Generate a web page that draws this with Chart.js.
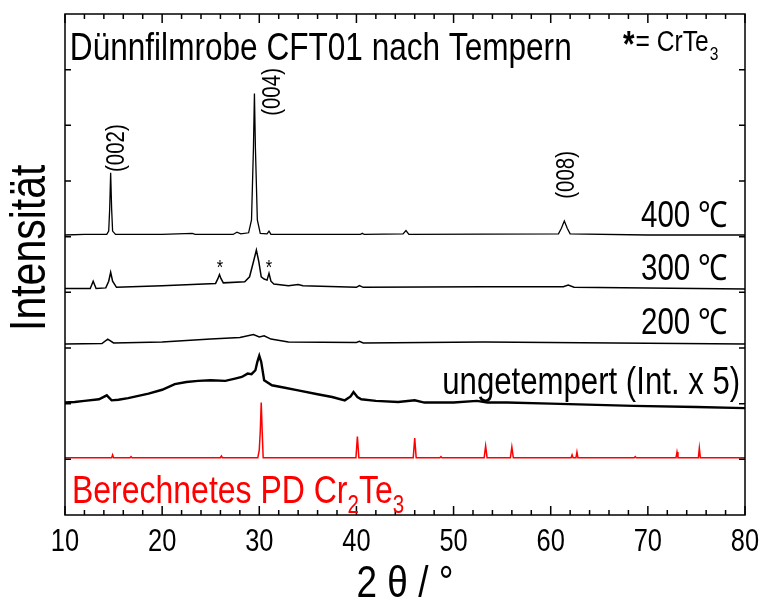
<!DOCTYPE html>
<html>
<head>
<meta charset="utf-8">
<script src="https://cdn.jsdelivr.net/npm/chart.js@4.4.1/dist/chart.umd.min.js"></script>
<style>
  html, body { margin: 0; padding: 0; background: #fff; }
</style>
</head>
<body>
<canvas id="xrd" width="766" height="598"></canvas>
<script>
// Diffraktogramme, gestapelt (Intensität in willkürlichen Einheiten, mit Versatz)
const t400 = [[10, 5.03], [12, 5.04], [14.3, 5.04], [14.5, 5.1], [14.6, 5.5], [14.7, 6.15], [14.8, 5.5], [14.9, 5.1], [15.2, 5.04],
  [20, 5.04], [23.1, 5.06], [23.4, 5.04], [27.3, 5.04], [27.7, 5.08], [28.1, 5.05], [28.9, 5.07], [29.2, 5.3], [29.4, 6.6],
  [29.5, 7.57], [29.6, 6.6], [29.8, 5.3], [30.1, 5.06], [30.8, 5.05], [31.0, 5.1], [31.2, 5.04], [40.4, 5.04], [40.6, 5.06],
  [40.8, 5.04], [44.8, 5.05], [45.1, 5.11], [45.4, 5.04], [60.8, 5.05], [61.1, 5.15], [61.4, 5.28], [61.7, 5.15], [62.0, 5.05],
  [70, 5.03], [80, 5.03]];

const t300 = [[10, 4.07], [12.6, 4.07], [12.9, 4.2], [13.2, 4.07], [14.2, 4.08], [14.5, 4.2], [14.7, 4.36], [14.9, 4.2], [15.3, 4.09],
  [20, 4.12], [25.5, 4.16], [25.75, 4.25], [25.9, 4.32], [26.05, 4.25], [26.3, 4.17], [28.5, 4.19], [29.0, 4.28], [29.4, 4.55],
  [29.7, 4.76], [29.95, 4.55], [30.2, 4.28], [30.5, 4.24], [30.8, 4.22], [31.0, 4.34], [31.2, 4.2], [31.5, 4.15], [33, 4.12],
  [34, 4.14], [34.5, 4.12], [40.0, 4.09], [40.3, 4.12], [40.7, 4.09], [53.1, 4.1], [61.3, 4.1], [61.8, 4.13], [62.4, 4.09], [80, 4.06]];

const t200 = [[10, 3.07], [13.8, 3.08], [14.4, 3.16], [15.0, 3.09], [20, 3.11], [25, 3.16], [28, 3.19], [29.4, 3.24], [30.0, 3.2],
  [30.5, 3.22], [31.2, 3.16], [33, 3.11], [40.0, 3.1], [40.3, 3.12], [40.7, 3.09], [53.1, 3.11], [80, 3.07]];

const tUngetempert = [[10, 2.02], [11, 2.03], [12, 2.05], [13.5, 2.08], [14.3, 2.15], [14.8, 2.06], [15.5, 2.07], [16.5, 2.1],
  [18.6, 2.18], [20, 2.25], [21.3, 2.35], [22.5, 2.39], [23.7, 2.41], [25, 2.42], [26.5, 2.41], [27.5, 2.45], [28.2, 2.48],
  [28.8, 2.54], [29.2, 2.53], [29.6, 2.6], [29.8, 2.75], [30.0, 2.86], [30.2, 2.75], [30.5, 2.42], [31.3, 2.33], [32.5, 2.29],
  [34, 2.24], [36, 2.17], [37.5, 2.12], [38.8, 2.06], [39.4, 2.13], [39.7, 2.21], [40.1, 2.12], [40.5, 2.08], [42, 2.05],
  [44.3, 2.03], [46.0, 2.06], [47, 2.02], [50, 2.02], [52.4, 2.05], [53.5, 2.02], [55.5, 2.02], [60, 2.0], [68.5, 1.96],
  [75, 1.94], [80, 1.92]];

const tCr2Te3 = [[10, 1.03], [14.8, 1.03], [14.9, 1.08], [15.0, 1.03], [16.7, 1.03], [16.8, 1.05], [16.9, 1.03], [26.0, 1.03],
  [26.1, 1.06], [26.2, 1.03], [29.85, 1.03], [30.0, 1.17], [30.1, 1.5], [30.2, 2.02], [30.3, 1.5], [30.4, 1.03], [39.95, 1.03],
  [40.1, 1.41], [40.25, 1.03], [45.85, 1.03], [46.0, 1.38], [46.15, 1.03], [48.6, 1.03], [48.7, 1.05], [48.8, 1.03], [53.15, 1.03],
  [53.3, 1.24], [53.45, 1.03], [55.85, 1.03], [56.0, 1.22], [56.15, 1.03], [62.1, 1.03], [62.2, 1.08], [62.3, 1.03], [62.6, 1.03],
  [62.7, 1.13], [62.8, 1.03], [68.6, 1.03], [68.7, 1.05], [68.8, 1.03], [72.9, 1.03], [73.0, 1.13], [73.1, 1.03], [75.2, 1.03],
  [75.3, 1.2], [75.4, 1.03], [80, 1.03]];

const xMajorTicks = [10, 20, 30, 40, 50, 60, 70, 80];
const xMinorTicks = [12, 14, 16, 18, 22, 24, 26, 28, 32, 34, 36, 38, 42, 44, 46, 48, 52, 54, 56, 58, 62, 64, 66, 68, 72, 74, 76, 78];
const yTicks = [1, 2, 3, 4, 5, 6, 7, 8];

// Beschriftungen im Diagramm (Datenkoordinaten)
const labels = [
  { text: 'Dünnfilmrobe CFT01 nach Tempern', x: 10.5, y: 8.18, size: 38.5, align: 'left' },
  { text: '400 ℃', x: 78.25, y: 5.17, size: 36, align: 'right' },
  { text: '300 ℃', x: 78.25, y: 4.22, size: 36, align: 'right' },
  { text: '200 ℃', x: 78.25, y: 3.25, size: 36, align: 'right' },
  { text: 'ungetempert (Int. x 5)', x: 79.5, y: 2.17, size: 38, align: 'right' },
  { text: '(002)', x: 15.35, y: 6.59, size: 25, rotate: true },
  { text: '(004)', x: 31.4, y: 7.6, size: 25, rotate: true },
  { text: '(008)', x: 61.68, y: 6.11, size: 25, rotate: true },
  { text: '*', x: 25.96, y: 4.42, size: 20, align: 'center' },
  { text: '*', x: 31.0, y: 4.42, size: 20, align: 'center' }
];

function pts(arr) {
  return arr.map(p => ({ x: p[0], y: p[1] }));
}

const FONT = '"Liberation Sans", Arial, sans-serif';
const SCHMAL = 0.82; // Arial Narrow nachgebildet

// Text schmal gestaucht zeichnen, gibt die Breite zurück
function text(ctx, s, x, y, size, align, opts) {
  opts = opts || {};
  ctx.save();
  ctx.translate(x, y);
  if (opts.rotate) ctx.rotate(-Math.PI / 2);
  ctx.scale(SCHMAL, 1);
  ctx.font = (opts.bold ? 'bold ' : '') + size + 'px ' + FONT;
  ctx.textAlign = align || 'left';
  ctx.textBaseline = opts.baseline || 'alphabetic';
  ctx.fillText(s, 0, 0);
  const w = ctx.measureText(s).width * SCHMAL;
  ctx.restore();
  return w;
}

const rahmen = {
  id: 'rahmen',
  afterDatasetsDraw(chart) {
    const { ctx, chartArea: a, scales: { x, y } } = chart;
    ctx.save();
    ctx.strokeStyle = '#000';
    ctx.lineWidth = 1.5;
    ctx.strokeRect(a.left, a.top, a.right - a.left, a.bottom - a.top);
    ctx.beginPath();
    xMajorTicks.forEach(v => {
      const px = x.getPixelForValue(v);
      ctx.moveTo(px, a.bottom); ctx.lineTo(px, a.bottom - 9);
      ctx.moveTo(px, a.top); ctx.lineTo(px, a.top + 9);
    });
    xMinorTicks.forEach(v => {
      const px = x.getPixelForValue(v);
      ctx.moveTo(px, a.bottom); ctx.lineTo(px, a.bottom - 5);
      ctx.moveTo(px, a.top); ctx.lineTo(px, a.top + 5);
    });
    yTicks.forEach(v => {
      const py = y.getPixelForValue(v);
      ctx.moveTo(a.left, py); ctx.lineTo(a.left + 6, py);
      ctx.moveTo(a.right, py); ctx.lineTo(a.right - 6, py);
    });
    ctx.stroke();

    // Tick-Beschriftung der x-Achse
    ctx.fillStyle = '#000';
    xMajorTicks.forEach(v => {
      text(ctx, String(v), x.getPixelForValue(v), a.bottom + 36, 31, 'center');
    });
    ctx.restore();
  }
};

const beschriftung = {
  id: 'beschriftung',
  afterDraw(chart) {
    const { ctx, chartArea: a, scales: { x, y } } = chart;
    ctx.save();
    ctx.fillStyle = '#000';
    labels.forEach(l => {
      const px = x.getPixelForValue(l.x);
      const py = y.getPixelForValue(l.y);
      if (l.rotate) {
        text(ctx, l.text, px, py, l.size, 'center', { rotate: true, baseline: 'middle' });
      } else {
        text(ctx, l.text, px, py, l.size, l.align, { baseline: l.align === 'center' ? 'middle' : 'alphabetic' });
      }
    });

    // Achsentitel
    text(ctx, 'Intensität', 31, y.getPixelForValue(4.8), 50, 'center', { rotate: true, baseline: 'middle' });
    text(ctx, '2 θ / °', (a.left + a.right) / 2, 597, 45, 'center');

    // "* = CrTe3" oben rechts
    let cx = x.getPixelForValue(67.45);
    const cy = a.top + 37;
    cx += text(ctx, '*', cx, cy + 6, 36, 'left', { bold: true }) + 1;
    cx += text(ctx, '= CrTe', cx, cy, 30, 'left') + 1;
    text(ctx, '3', cx, cy + 9, 19, 'left');

    // Rote Beschriftung mit Indizes
    ctx.fillStyle = '#ff0000';
    let rx = x.getPixelForValue(10.72);
    const ry = y.getPixelForValue(0.22);
    const teile = [['Berechnetes PD Cr', 39, 0], ['2', 25, 10], ['Te', 39, 0], ['3', 25, 10]];
    teile.forEach(t => {
      rx += text(ctx, t[0], rx, ry + t[2], t[1], 'left');
    });
    ctx.restore();
  }
};

function serie(name, data, color, width) {
  return {
    label: name,
    data: pts(data),
    borderColor: color,
    backgroundColor: color,
    borderWidth: width,
    pointRadius: 0,
    showLine: true,
    tension: 0,
    fill: false
  };
}

new Chart(document.getElementById('xrd').getContext('2d'), {
  type: 'scatter',
  data: {
    datasets: [
      serie('400 ℃', t400, '#000', 1.3),
      serie('300 ℃', t300, '#000', 1.5),
      serie('200 ℃', t200, '#000', 1.5),
      serie('ungetempert', tUngetempert, '#000', 2.4),
      serie('Cr2Te3', tCr2Te3, '#ff0000', 1.5)
    ]
  },
  options: {
    responsive: false,
    animation: false,
    layout: { padding: { top: 14, right: 21, left: 0, bottom: 0 } },
    plugins: {
      legend: { display: false },
      tooltip: { enabled: false }
    },
    scales: {
      x: {
        type: 'linear',
        min: 10,
        max: 80,
        grid: { display: false, drawTicks: false },
        border: { display: false },
        ticks: { display: false, stepSize: 10 },
        title: { display: false },
        afterFit(scale) { scale.height = 83; }
      },
      y: {
        type: 'linear',
        min: 0,
        max: 9,
        grid: { display: false, drawTicks: false },
        border: { display: false },
        ticks: { display: false },
        title: { display: false },
        afterFit(scale) { scale.width = 65; }
      }
    }
  },
  plugins: [rahmen, beschriftung]
});
</script>
</body>
</html>
